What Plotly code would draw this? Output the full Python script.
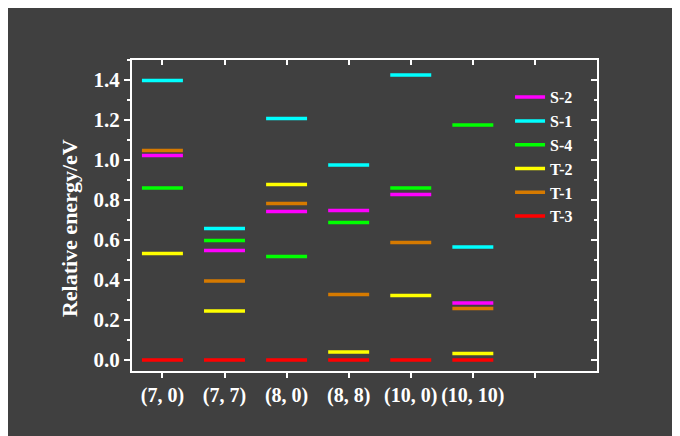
import plotly.graph_objects as go

categories = ["(7, 0)", "(7, 7)", "(8, 0)", "(8, 8)", "(10, 0)", "(10, 10)"]
series_names = ["S-2", "S-1", "S-4", "T-2", "T-1", "T-3"]
S2 = [1.022, 0.548, 0.742, 0.748, 0.828, 0.285]
S1 = [1.397, 0.658, 1.208, 0.975, 1.425, 0.565]
S4 = [0.860, 0.597, 0.518, 0.688, 0.860, 1.175]
T2 = [0.533, 0.245, 0.878, 0.040, 0.322, 0.032]
T1 = [1.047, 0.395, 0.782, 0.328, 0.588, 0.258]
T3 = [0.0, 0.0, 0.0, 0.0, 0.0, 0.0]
colors = ["#FF00FF", "#00FFFF", "#00FF00", "#FFFF00", "#D67A00", "#FF0000"]
tick_labels = categories + [""]
y_title = "Relative energy/eV"

BG = "#404040"
FONT = "Liberation Serif"
HALF = 0.33

fig = go.Figure()
for name, vals, col in zip(series_names, [S2, S1, S4, T2, T1, T3], colors):
    xs, ys = [], []
    for i, v in enumerate(vals):
        xs += [i - HALF, i + HALF, None]
        ys += [v, v, None]
    fig.add_trace(go.Scatter(x=xs, y=ys, mode="lines", name=name,
                             line=dict(color=col, width=3.5)))

# helper trace to activate mirror axes
fig.add_trace(go.Scatter(x=[None], y=[None], xaxis="x2", yaxis="y2",
                         showlegend=False, hoverinfo="skip"))

xfont = dict(family=FONT, size=20, color="white", weight="bold")
yfont = dict(family=FONT, size=21, color="white", weight="bold")
fig.update_layout(
    width=680, height=436,
    margin=dict(l=124, r=91, t=52, b=73),
    paper_bgcolor=BG, plot_bgcolor=BG,
    showlegend=True,
    legend=dict(x=0.813, y=0.935, xanchor="left", yanchor="top",
                bgcolor="rgba(0,0,0,0)",
                font=dict(family=FONT, size=16, color="white", weight="bold")),
    xaxis=dict(range=[-0.49, 7.0], tickmode="array",
               tickvals=list(range(len(tick_labels))), ticktext=tick_labels,
               ticks="outside", ticklen=5, tickwidth=2, tickcolor="white",
               showline=True, linewidth=2, linecolor="white",
               showgrid=False, zeroline=False, tickfont=xfont),
    yaxis=dict(range=[-0.055, 1.5], dtick=0.2, tick0=0, tickformat=".1f",
               ticks="outside", ticklen=6, tickwidth=2, tickcolor="white",
               minor=dict(dtick=0.1, ticks="outside", ticklen=3, tickwidth=2, tickcolor="white"),
               showline=True, linewidth=2, linecolor="white",
               showgrid=False, zeroline=False, tickfont=yfont),
    xaxis2=dict(overlaying="x", side="top", matches="x", range=[-0.49, 7.0],
                tickmode="array", tickvals=list(range(len(tick_labels))),
                ticks="inside", ticklen=5, tickwidth=2, tickcolor="white",
                showticklabels=False, showline=True, linewidth=2, linecolor="white",
                showgrid=False, zeroline=False),
    yaxis2=dict(overlaying="y", side="right", range=[-0.055, 1.5], dtick=0.2, tick0=0,
                ticks="inside", ticklen=6, tickwidth=2, tickcolor="white",
                minor=dict(dtick=0.1, ticks="inside", ticklen=3, tickwidth=2, tickcolor="white"),
                showticklabels=False, showline=True, linewidth=2, linecolor="white",
                showgrid=False, zeroline=False),
    annotations=[dict(text=y_title, textangle=-90, xref="paper", yref="paper",
                      x=-0.133, y=0.46, xanchor="center", yanchor="middle",
                      showarrow=False,
                      font=dict(family=FONT, size=22, color="white", weight="bold"))],
)

fig.write_html("out.html")
